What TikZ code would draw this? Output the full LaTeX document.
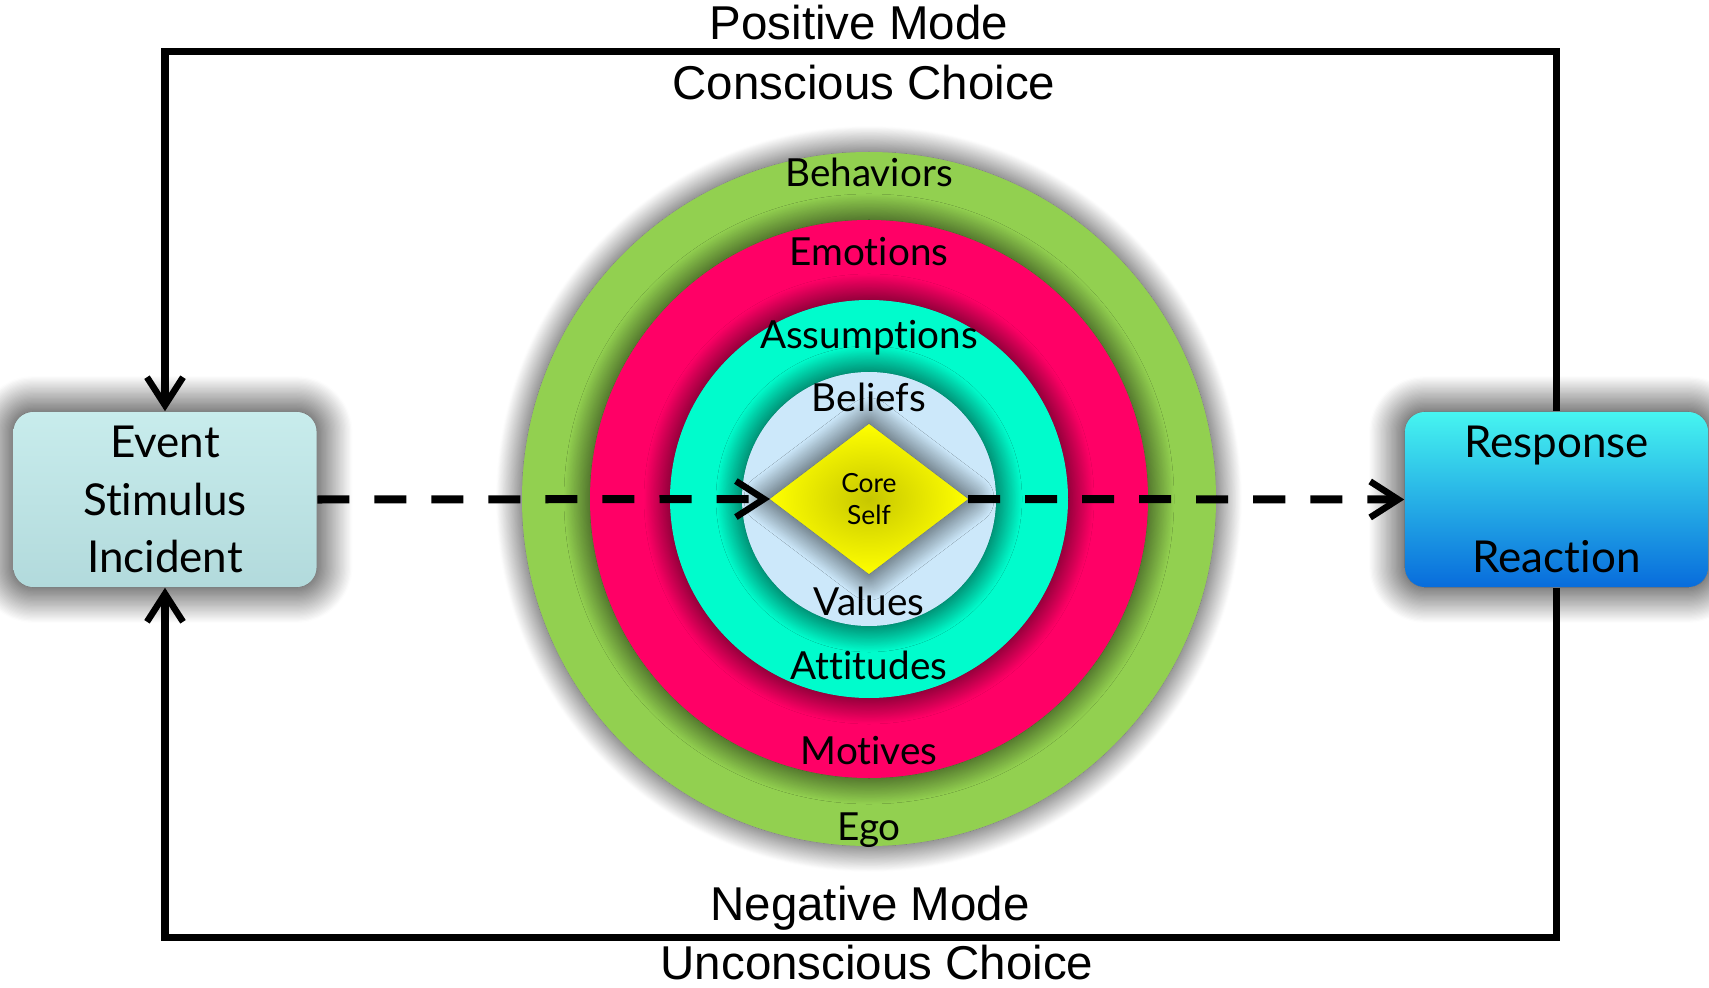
\documentclass[tikz,border=0pt]{standalone}
\usepackage{fontspec}
\setmainfont{Lato}[Ligatures=NoCommon]
\newfontfamily\modefont{Liberation Sans}
\usetikzlibrary{
    arrows.meta,
    shapes.geometric,
    shadows.blur,
}
\definecolor{egogreen}{RGB}{146,208,80}
\definecolor{motivered}{RGB}{255,0,102}
\definecolor{attitudecyan}{RGB}{0,252,204}
\definecolor{valueblue}{RGB}{204,232,250}
\definecolor{coreyellow}{RGB}{255,255,0}
\definecolor{eventtop}{RGB}{200,236,236}
\definecolor{eventbottom}{RGB}{178,218,220}
\definecolor{responsetop}{RGB}{70,245,240}
\definecolor{responsemid}{RGB}{25,185,228}
\definecolor{responsebottom}{RGB}{8,108,220}
\tikzset{
    halo/.style={blur shadow={shadow xshift=0pt, shadow yshift=0pt,
        shadow blur radius=0.26cm, shadow blur steps=30, shadow opacity=85}},
    ringlabel/.style={font=\fontsize{11}{13}\selectfont, inner sep=0pt,
        text height=0.72em, text depth=0pt},
    modelabel/.style={font=\modefont\fontsize{13.5}{16}\selectfont, inner sep=0pt,
        text height=0.72em, text depth=0pt},
    stagebox/.style={rounded corners=0.2cm, minimum width=3.03cm, minimum height=1.75cm,
        align=center, inner sep=0pt, font=\fontsize{12.5}{16.4}\selectfont,
        blur shadow={shadow xshift=0pt, shadow yshift=0pt,
            shadow blur radius=0.36cm, shadow blur steps=30, shadow opacity=100}},
    event/.style={stagebox, top color=eventtop, bottom color=eventbottom},
    response/.style={stagebox, top color=responsetop, middle color=responsemid,
        bottom color=responsebottom},
    core/.style={diamond, minimum width=1.98cm, minimum height=1.5cm,
        inner sep=0pt, outer sep=0pt, shading=radial,
        inner color=coreyellow!78!black, outer color=coreyellow, halo,
        align=center, font=\fontsize{7.5}{9}\selectfont},
    loopline/.style={line width=0.07cm,
        -{Straight Barb[length=0.28cm, width=0.36cm, line width=0.065cm]}},
    flowline/.style={loopline, line width=0.08cm, dash pattern=on 0.32cm off 0.25cm},
}

\begin{document}
\begin{tikzpicture}[x=0.01cm, y=0.01cm]
    \useasboundingbox (0,0) rectangle (1709,987);

    % rings, outermost first so each one shades the one around it
    \foreach \r/\col in {347/egogreen, 279/motivered, 199/attitudecyan, 127/valueblue}
        \fill[\col, halo] (869,488) circle[radius=\r];

    \node[core] (core) at (869,488) {Core\\Self};

    \node[ringlabel] (behaviors) at (869,813) {Behaviors};
    \node[ringlabel] (emotions) at (869,734) {Emotions};
    \node[ringlabel] (assumptions) at (869,651) {Assumptions};
    \node[ringlabel] (beliefs) at (869,588) {Beliefs};
    \node[ringlabel] (values) at (869,384) {Values};
    \node[ringlabel] (attitudes) at (869,320) {Attitudes};
    \node[ringlabel] (motives) at (869,235) {Motives};
    \node[ringlabel] (ego) at (869,159) {Ego};

    \node[event] (event) at (165,487.5) {Event\\Stimulus\\Incident};
    \node[response] (response) at (1556.5,487.5) {Response\\\mbox{}\\Reaction};

    % straight path through the core
    \draw[flowline] (event.east) -- (core.west);
    \draw[flowline] (core.east) -- (response.west);

    % feedback loops
    \coordinate (top) at (0,935);
    \coordinate (bottom) at (0,50);
    \draw[loopline] (response.north) |- (event.north |- top) -- (event.north);
    \draw[loopline] (response.south) |- (event.south |- bottom) -- (event.south);

    \node[modelabel] (positive) at (859,960) {Positive Mode};
    \node[modelabel] (conscious) at (864,900) {Conscious Choice};
    \node[modelabel] (negative) at (870,79) {Negative Mode};
    \node[modelabel] (unconscious) at (877,20) {Unconscious Choice};
\end{tikzpicture}
\end{document}
